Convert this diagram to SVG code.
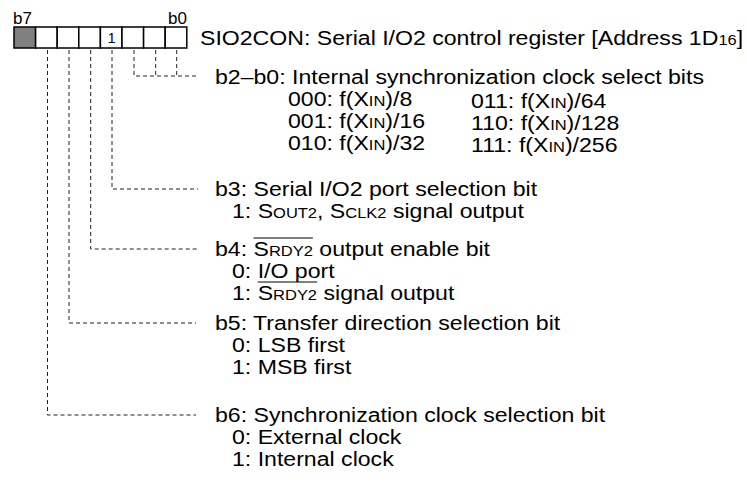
<svg xmlns="http://www.w3.org/2000/svg" width="747" height="483" viewBox="0 0 747 483">
<style>
text{font-family:"Liberation Sans",Arial,sans-serif;fill:#000}
.t{font-size:21px}
.s{font-size:15px}
.bl{font-size:17px}
.cell{fill:#fff;stroke:#000;stroke-width:1.5}
.dash{fill:none;stroke:#222;stroke-width:1;stroke-dasharray:4 3}
.ovl{stroke:#000;stroke-width:1.2}
</style>
<rect width="747" height="483" fill="#fff"/>
<g id="register">
<text class="bl" x="13" y="24">b7</text>
<text class="bl" x="187" y="24" text-anchor="end">b0</text>
<rect class="cell" x="14" y="27" width="21.6" height="21" style="fill:#808080"/>
<rect class="cell" x="35.6" y="27" width="21.6" height="21"/>
<rect class="cell" x="57.2" y="27" width="21.6" height="21"/>
<rect class="cell" x="78.8" y="27" width="21.6" height="21"/>
<rect class="cell" x="100.4" y="27" width="21.6" height="21"/>
<rect class="cell" x="122" y="27" width="21.6" height="21"/>
<rect class="cell" x="143.6" y="27" width="21.6" height="21"/>
<rect class="cell" x="165.2" y="27" width="21.6" height="21"/>
<text x="111.6" y="43" font-size="14" text-anchor="middle">1</text>
<text class="t" transform="translate(200,45) scale(1.1,1)">SIO2CON: Serial I/O2 control register [Address 1D<tspan class="s">16</tspan>]</text>
</g>
<g id="connectors">
<path class="dash" d="M134 50V76H197M155.7 50V76M176.7 50V76"/>
<path class="dash" d="M112 50V189H198"/>
<path class="dash" d="M90.7 50V249H198"/>
<path class="dash" d="M69 50V323H196"/>
<path class="dash" d="M47.5 50V415H196"/>
</g>
<g id="b2-b0">
<text class="t" transform="translate(215,84) scale(1.1,1)">b2–b0: Internal synchronization clock select bits</text>
<text class="t" transform="translate(288,106) scale(1.1,1)">000: f(X<tspan class="s">IN</tspan>)/8</text>
<text class="t" transform="translate(288,128) scale(1.1,1)">001: f(X<tspan class="s">IN</tspan>)/16</text>
<text class="t" transform="translate(288,150) scale(1.1,1)">010: f(X<tspan class="s">IN</tspan>)/32</text>
<text class="t" transform="translate(471,108) scale(1.1,1)">011: f(X<tspan class="s">IN</tspan>)/64</text>
<text class="t" transform="translate(471,130) scale(1.1,1)">110: f(X<tspan class="s">IN</tspan>)/128</text>
<text class="t" transform="translate(471,152) scale(1.1,1)">111: f(X<tspan class="s">IN</tspan>)/256</text>
</g>
<g id="b3">
<text class="t" transform="translate(215,196) scale(1.1,1)">b3: Serial I/O2 port selection bit</text>
<text class="t" transform="translate(232,218) scale(1.1,1)">1: S<tspan class="s">OUT2</tspan>, S<tspan class="s">CLK2</tspan> signal output</text>
</g>
<g id="b4">
<g transform="translate(215,256) scale(1.1,1)">
<text class="t">b4: S<tspan class="s">RDY2</tspan> output enable bit</text>
<line class="ovl" x1="35" y1="-18" x2="89" y2="-18"/>
</g>
<text class="t" transform="translate(232,278) scale(1.1,1)">0: I/O port</text>
<g transform="translate(232,300) scale(1.1,1)">
<text class="t">1: S<tspan class="s">RDY2</tspan> signal output</text>
<line class="ovl" x1="23.4" y1="-18" x2="77.4" y2="-18"/>
</g>
</g>
<g id="b5">
<text class="t" transform="translate(215,330) scale(1.1,1)">b5: Transfer direction selection bit</text>
<text class="t" transform="translate(232,352) scale(1.1,1)">0: LSB first</text>
<text class="t" transform="translate(232,374) scale(1.1,1)">1: MSB first</text>
</g>
<g id="b6">
<text class="t" transform="translate(215,422) scale(1.1,1)">b6: Synchronization clock selection bit</text>
<text class="t" transform="translate(232,444) scale(1.1,1)">0: External clock</text>
<text class="t" transform="translate(232,466) scale(1.1,1)">1: Internal clock</text>
</g>
</svg>
